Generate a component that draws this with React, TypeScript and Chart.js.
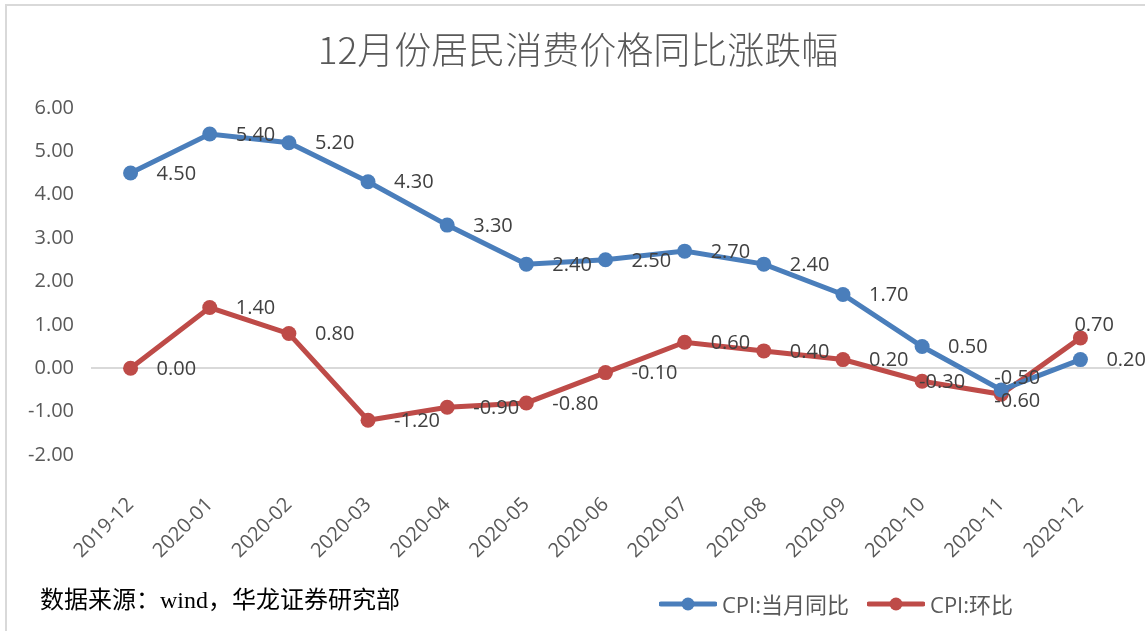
import React, { useEffect, useRef } from "react";
import { Chart, registerables } from "chart.js";

Chart.register(...registerables);

const categories = [
  "2019-12", "2020-01", "2020-02", "2020-03", "2020-04", "2020-05", "2020-06",
  "2020-07", "2020-08", "2020-09", "2020-10", "2020-11", "2020-12",
];
const yoyValues = [4.5, 5.4, 5.2, 4.3, 3.3, 2.4, 2.5, 2.7, 2.4, 1.7, 0.5, -0.5, 0.2];
const momValues = [0.0, 1.4, 0.8, -1.2, -0.9, -0.8, -0.1, 0.6, 0.4, 0.2, -0.3, -0.6, 0.7];
const seriesNames = ["CPI:当月同比", "CPI:环比"];
const titleText = "12月份居民消费价格同比涨跌幅";
const sourceText = "数据来源：wind，华龙证券研究部";
const yMin = -2;
const yMax = 6;

const BLUE = "#4A7EBB";
const RED = "#BE4B48";
const FONT = "'Open Sans', 'Noto Sans CJK SC', sans-serif";

// label placement style: default offset right of the point, with a few hand-moved labels
const LABEL_DX = 26;
const labelNudges: Record<string, [number, number]> = {
  "0-11": [-7, -13],
  "1-10": [-3, 0],
  "1-11": [-7, 6],
  "1-12": [-6, -14],
};

const labelPlugin = {
  id: "valueLabels",
  afterDatasetsDraw(chart: any) {
    const ctx = chart.ctx;
    ctx.save();
    ctx.font = `20px ${FONT}`;
    ctx.fillStyle = "#404040";
    ctx.textAlign = "left";
    ctx.textBaseline = "middle";
    chart.data.datasets.forEach((ds: any, i: number) => {
      const meta = chart.getDatasetMeta(i);
      meta.data.forEach((pt: any, j: number) => {
        const n = labelNudges[`${i}-${j}`];
        const dx = n ? n[0] : LABEL_DX;
        const dy = n ? n[1] : 0;
        ctx.fillText(Number(ds.data[j]).toFixed(2), pt.x + dx, pt.y + 1 + dy);
      });
    });
    ctx.restore();
  },
};

function LegendItem({ color, text }: { color: string; text: string }) {
  return (
    <div style={{ display: "flex", alignItems: "center", marginRight: 18 }}>
      <svg width={58} height={16} style={{ marginRight: 5 }}>
        <line x1={2} y1={8} x2={56} y2={8} stroke={color} strokeWidth={5} strokeLinecap="round" />
        <circle cx={29} cy={8} r={6.5} fill={color} />
      </svg>
      <span>{text}</span>
    </div>
  );
}

export default function App() {
  const canvasRef = useRef<HTMLCanvasElement | null>(null);

  useEffect(() => {
    document.body.style.margin = "0";
    const canvas = canvasRef.current;
    if (!canvas) return;
    const chart = new Chart(canvas, {
      type: "line",
      data: {
        labels: categories,
        datasets: [
          {
            label: seriesNames[0],
            data: yoyValues,
            borderColor: BLUE,
            backgroundColor: BLUE,
            borderWidth: 5,
            pointRadius: 7.5,
            pointBackgroundColor: BLUE,
            pointBorderWidth: 0,
            tension: 0,
          },
          {
            label: seriesNames[1],
            data: momValues,
            borderColor: RED,
            backgroundColor: RED,
            borderWidth: 5,
            pointRadius: 7.5,
            pointBackgroundColor: RED,
            pointBorderWidth: 0,
            tension: 0,
          },
        ],
      },
      options: {
        responsive: false,
        animation: false,
        layout: { padding: { top: 108, right: 25, left: 0, bottom: 0 } },
        plugins: {
          legend: { display: false },
          title: { display: false },
          tooltip: { enabled: false },
        },
        scales: {
          x: {
            offset: true,
            grid: { display: false },
            border: { display: false },
            ticks: {
              autoSkip: false,
              maxRotation: 45,
              minRotation: 45,
              padding: 30,
              color: "#595959",
              font: { family: FONT, size: 20 },
            },
            afterFit(axis: any) {
              axis.height = 176;
            },
          },
          y: {
            min: yMin,
            max: yMax,
            grid: {
              drawTicks: false,
              tickLength: 0,
              lineWidth: 2,
              color: (c: any) => (c.tick && c.tick.value === 0 ? "#D9D9D9" : "rgba(0,0,0,0)"),
            },
            border: { display: false },
            ticks: {
              stepSize: 1,
              padding: 17,
              color: "#595959",
              font: { family: FONT, size: 20 },
              callback: (v: any) => Number(v).toFixed(2),
            },
            afterFit(axis: any) {
              axis.width = 91;
            },
          },
        },
      },
      plugins: [labelPlugin],
    } as any);
    return () => chart.destroy();
  }, []);

  return (
    <div style={{ position: "relative", width: 1145, height: 631, overflow: "hidden", background: "#fff" }}>
      <div
        style={{
          position: "absolute",
          left: 5,
          top: 4,
          width: 1300,
          height: 800,
          border: "2px solid #D9D9D9",
          boxSizing: "border-box",
        }}
      />
      <canvas ref={canvasRef} width={1145} height={631} style={{ position: "absolute", left: 0, top: 0 }} />
      <div
        style={{
          position: "absolute",
          left: 0,
          top: 24,
          width: 1156,
          textAlign: "center",
          fontFamily: "'Noto Sans CJK SC', sans-serif",
          fontSize: 37,
          fontWeight: 300,
          color: "#595959",
          lineHeight: "48px",
        }}
      >
        {titleText}
      </div>
      <div
        style={{
          position: "absolute",
          left: 40,
          top: 585,
          fontFamily: "'Liberation Serif', 'Noto Sans CJK SC', serif",
          fontSize: 24,
          color: "#000",
          lineHeight: "30px",
        }}
      >
        {sourceText}
      </div>
      <div
        style={{
          position: "absolute",
          left: 659,
          top: 590,
          display: "flex",
          fontFamily: FONT,
          fontSize: 22,
          color: "#595959",
          lineHeight: "28px",
        }}
      >
        <LegendItem color={BLUE} text={seriesNames[0]} />
        <LegendItem color={RED} text={seriesNames[1]} />
      </div>
    </div>
  );
}
